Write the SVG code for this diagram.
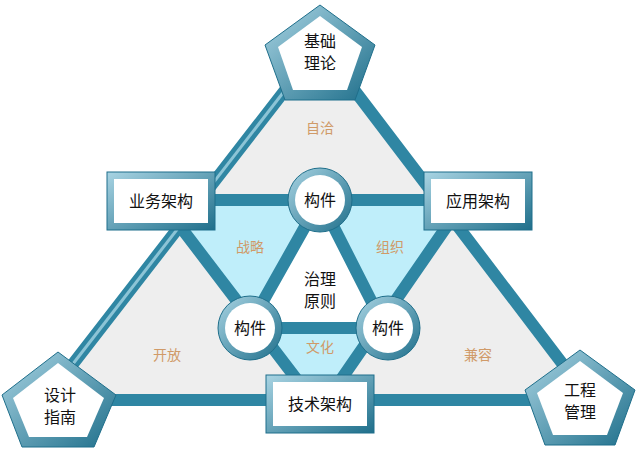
<svg xmlns="http://www.w3.org/2000/svg" width="640" height="452" viewBox="0 0 640 452">
<defs>
<linearGradient id="bev" x1="0" y1="0" x2="1" y2="1"><stop offset="0" stop-color="#a9d4e3"/><stop offset="1" stop-color="#1f6f8b"/></linearGradient>
<style>
.e{stroke:#2f86a3;stroke-width:12;fill:none;stroke-linecap:round}
.ei{stroke:#8cc4d6;stroke-width:3;fill:none}
.t{font-family:"Noto Sans CJK SC",sans-serif;font-size:16px;fill:#111;text-anchor:middle}
.l{font-family:"Noto Sans CJK SC",sans-serif;font-size:14px;fill:#d09a68;text-anchor:middle}
.b{fill:url(#bev);stroke:#1f6f8b;stroke-width:1}
.w{fill:#fff}
</style>
</defs>
<polygon points="320,45 45,400 590,400" fill="#eeeeee"/>
<polygon points="160,200 465,200 320,410" fill="#bfeefa"/>
<polygon points="320,200 248,328 385,328" fill="#fff"/>
<g id="connectors">
<polyline class="e" points="320,45 45,400 590,400 320,45"/>
<polyline class="e" points="160,200 465,200 320,410 160,200"/>
<polyline class="e" points="320,200 248,328 385,328 320,200" stroke-width="9"/>
<polyline class="ei" points="320,45 45,400"/>
</g>
<g id="top"><polygon class="b" points="320,5 375,45 355,100 285,100 265,45"/><polygon class="w" points="320,16 362,47 347,90 293,90 278,47"/><text class="t" x="320" y="47">基础</text><text class="t" x="320" y="69">理论</text></g>
<g id="left"><polygon class="b" points="58,352 116,395 94,447 22,447 2,395"/><polygon class="w" points="58,363 104,398 87,437 29,437 13,398"/><text class="t" x="60" y="401">设计</text><text class="t" x="60" y="423">指南</text></g>
<g id="right"><polygon class="b" points="580,350 635,390 615,445 545,445 525,390"/><polygon class="w" points="580,361 623,393 607,435 553,435 537,393"/><text class="t" x="580" y="396">工程</text><text class="t" x="580" y="418">管理</text></g>
<g id="biz"><rect class="b" x="107" y="172" width="108" height="58"/><rect class="w" x="114" y="179" width="94" height="44"/><text class="t" x="161" y="207">业务架构</text></g>
<g id="app"><rect class="b" x="424" y="172" width="108" height="58"/><rect class="w" x="431" y="179" width="94" height="44"/><text class="t" x="478" y="207">应用架构</text></g>
<g id="tech"><rect class="b" x="266" y="375" width="108" height="58"/><rect class="w" x="273" y="382" width="94" height="44"/><text class="t" x="320" y="410">技术架构</text></g>
<g id="c1"><circle cx="320" cy="200" r="32" class="b"/><circle cx="320" cy="200" r="25" class="w"/><text class="t" x="320" y="206">构件</text></g>
<g id="c2"><circle cx="250" cy="328" r="32" class="b"/><circle cx="250" cy="328" r="25" class="w"/><text class="t" x="250" y="334">构件</text></g>
<g id="c3"><circle cx="388" cy="328" r="32" class="b"/><circle cx="388" cy="328" r="25" class="w"/><text class="t" x="388" y="334">构件</text></g>
<g id="center"><text class="t" x="320" y="285">治理</text><text class="t" x="320" y="307">原则</text></g>
<g id="labels">
<text class="l" x="320" y="133">自洽</text>
<text class="l" x="250" y="252">战略</text>
<text class="l" x="390" y="252">组织</text>
<text class="l" x="320" y="352">文化</text>
<text class="l" x="167" y="360">开放</text>
<text class="l" x="478" y="360">兼容</text>
</g>
</svg>
